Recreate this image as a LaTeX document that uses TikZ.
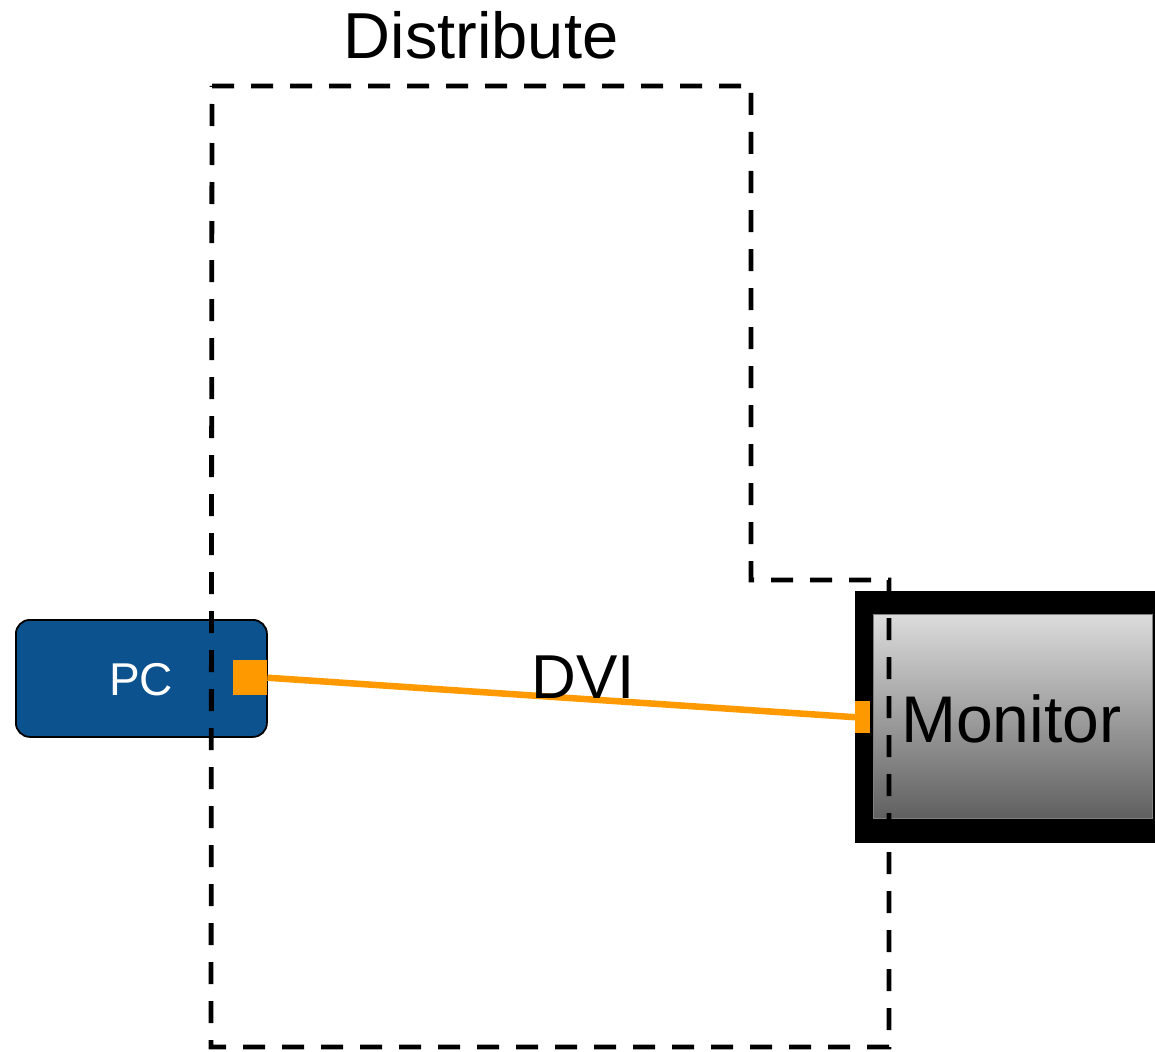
\documentclass[tikz,border=0pt]{standalone}
\usepackage{fontspec}
\setmainfont{Liberation Sans}
\definecolor{pcblue}{RGB}{11,82,142}
\definecolor{portorange}{RGB}{255,153,0}
\definecolor{monlight}{RGB}{220,220,220}
\definecolor{mondark}{RGB}{96,96,96}
\begin{document}
\begin{tikzpicture}[x=1pt,y=-1pt,
  pcbox/.style={draw=black,line width=1.8pt,fill=pcblue,rounded corners=14pt,
    minimum width=251pt,minimum height=117pt,inner sep=0pt,anchor=north west},
  port/.style={fill=portorange,inner sep=0pt,anchor=north west},
  cable/.style={portorange,line width=6.5pt},
  grouppath/.style={line width=4.8pt,dash pattern=on 22pt off 17pt},
  lbl/.style={inner sep=0pt,anchor=base}]
\useasboundingbox (0,0) rectangle (1155,1051);
% PC
\node[pcbox] (pc) at (15,619) {};
\node[lbl,text=white,font=\fontsize{46}{50}\selectfont] (pclabel) at (141,695) {PC};
\node[port,minimum width=34pt,minimum height=35pt] (pcport) at (233,660) {};
% Monitor
\node[fill=black,inner sep=0pt,anchor=north west,minimum width=310pt,minimum height=252pt] (monitor) at (855,591) {};
\shade[top color=monlight,bottom color=mondark,draw=gray,line width=0.8pt] (873,614) rectangle (1152,818);
\node[lbl,anchor=base west,font=\fontsize{66}{70}\selectfont] (monlabel) at (901,742) {Monitor};
\node[port,minimum width=15pt,minimum height=32pt] (monport) at (855,701) {};
% DVI cable
\draw[cable] (pcport.east) -- (monport.west);
\node[lbl,font=\fontsize{62}{66}\selectfont] (dvi) at (583,698) {DVI};
% Distribute group outline
\draw[grouppath] (212,86) -- (751,86) -- (751,580) -- (889,580) -- (889,1047) -- (211,1047) -- cycle;
\node[lbl,font=\fontsize{65}{70}\selectfont] (distribute) at (481,59) {Distribute};
\end{tikzpicture}
\end{document}
